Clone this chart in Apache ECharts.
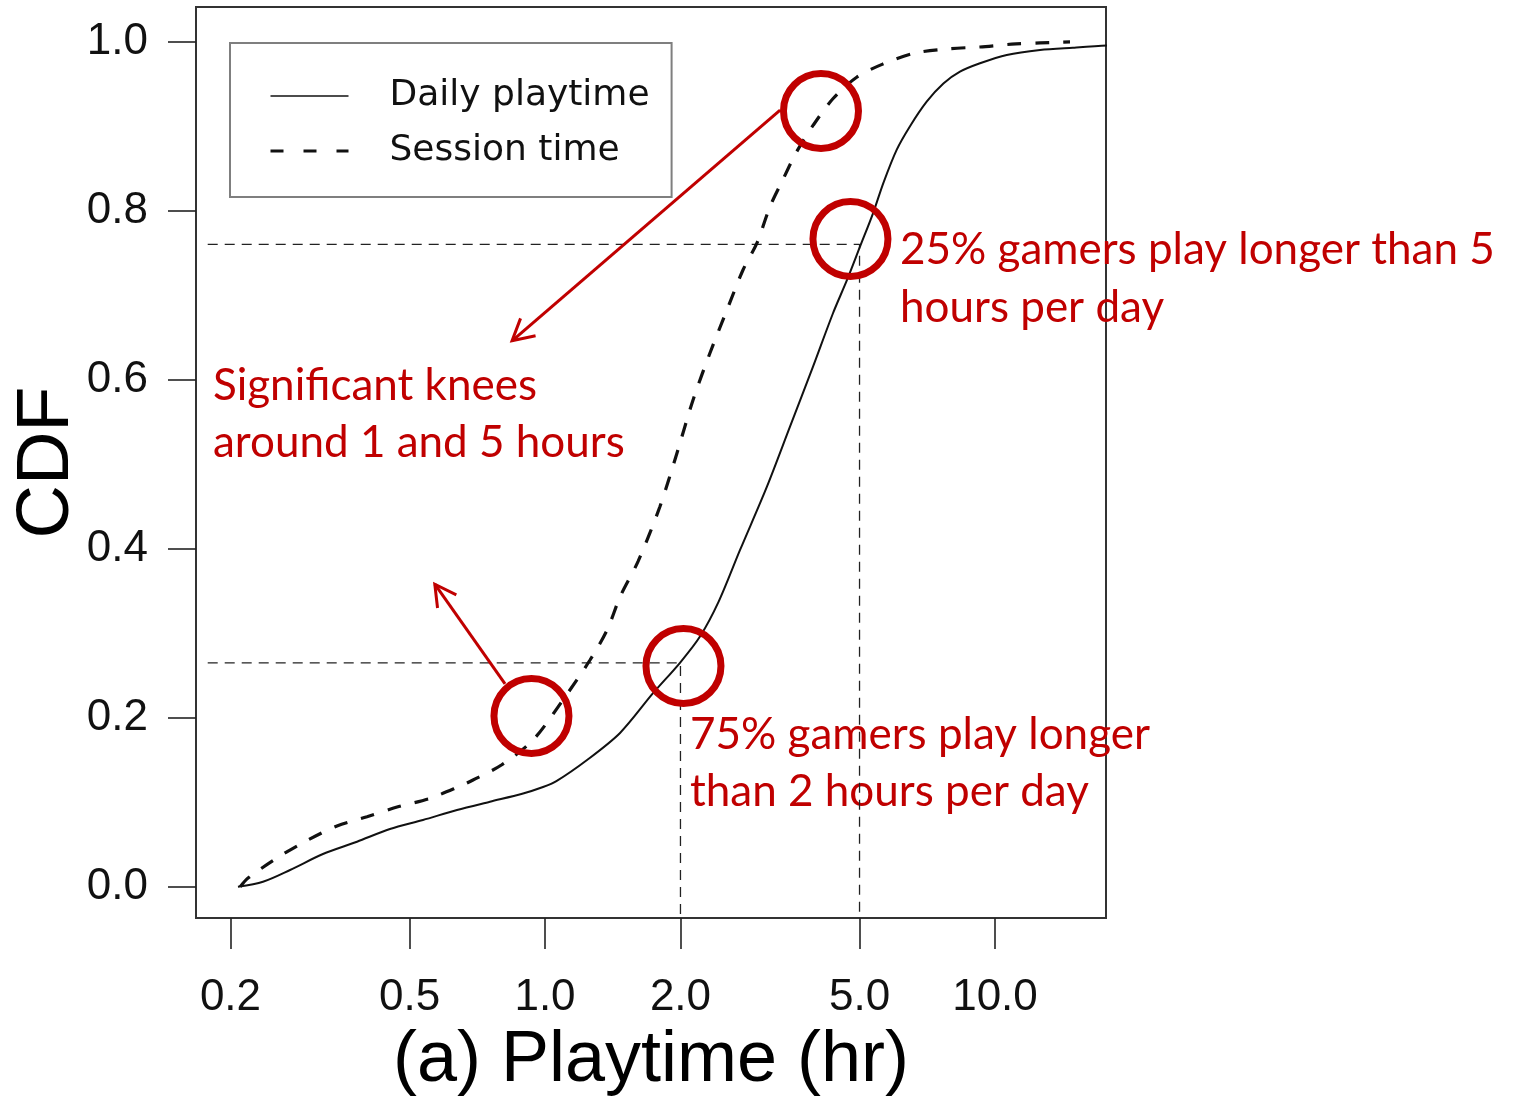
<!DOCTYPE html>
<html><head><meta charset="utf-8">
<script src="https://cdn.jsdelivr.net/npm/echarts@6/dist/echarts.min.js"></script>
<style>html,body{margin:0;padding:0;background:#fff}#c{width:1518px;height:1096px}</style>
</head><body><div id="c"></div>
<script>
// ---- data ----
const seriesNames = ['Daily playtime', 'Session time'];
const xTickHours = [0.2, 0.5, 1, 2, 5, 10];
const xTickLabels = ['0.2', '0.5', '1.0', '2.0', '5.0', '10.0'];
const yTickValues = [0, 0.2, 0.4, 0.6, 0.8, 1.0];
const yTickLabels = ['0.0', '0.2', '0.4', '0.6', '0.8', '1.0'];

const dailyHours = [0.2078, 0.2362, 0.2713, 0.321, 0.3822, 0.4522, 0.5356, 0.6373, 0.7546, 0.89, 0.99, 1.06, 1.24, 1.468, 1.738, 1.995, 2.21, 2.43, 2.713, 3.113, 3.503, 3.941, 4.365, 4.69, 5.012, 5.357, 5.65, 6.046, 6.474, 7.05, 7.68, 8.36, 9.26, 10.62, 12.59, 14.9, 17.74, 20];
const dailyCdf   = [0, 0.0059, 0.0198, 0.0387, 0.0533, 0.0683, 0.079, 0.0908, 0.1006, 0.110, 0.118, 0.125, 0.150, 0.182, 0.229, 0.265, 0.296, 0.337, 0.3985, 0.4734, 0.5444, 0.6154, 0.6786, 0.718, 0.7574, 0.7969, 0.833, 0.872, 0.900, 0.929, 0.9505, 0.9645, 0.9744, 0.9843, 0.9902, 0.9929, 0.9953, 0.996];

const sessionHours = [0.2103, 0.2188, 0.2577, 0.2974, 0.3449, 0.4022, 0.469, 0.5495, 0.6406, 0.6918, 0.80, 0.9404, 1.096, 1.259, 1.374, 1.468, 1.61, 1.8, 1.965, 2.133, 2.326, 2.537, 2.754, 2.959, 3.162, 3.375, 3.625, 3.948, 4.373, 4.928, 5.628, 6.607, 7.81, 9.26, 10.89, 12.59, 14.68];
const sessionCdf   = [0, 0.0103, 0.0363, 0.0553, 0.0719, 0.0828, 0.0943, 0.1038, 0.118, 0.1263, 0.144, 0.1736, 0.221, 0.2683, 0.3038, 0.3429, 0.385, 0.4497, 0.5133, 0.576, 0.6316, 0.6825, 0.7298, 0.7618, 0.8047, 0.8363, 0.8698, 0.9014, 0.933, 0.9579, 0.9734, 0.9862, 0.9914, 0.9937, 0.997, 0.9985, 0.9997];

// reference (guide) lines
const guide1Hours = [0.178, 5, 5];
const guide1Cdf   = [0.76, 0.76, -0.04];
const guide2Hours = [0.178, 2, 2];
const guide2Cdf   = [0.265, 0.265, -0.04];

// annotation circles and arrows (data coordinates)
const circleHours = [4.105, 4.773, 2.031, 0.933];
const circleCdf   = [0.918, 0.7665, 0.2612, 0.202];
const arrowFromHours = [3.33, 0.815];
const arrowFromCdf   = [0.919, 0.24];
const arrowToHours   = [0.845, 0.569];
const arrowToCdf     = [0.646, 0.358];

const annotationTexts = [
  'Significant knees\naround 1 and 5 hours',
  '25% gamers play longer than 5\nhours per day',
  '75% gamers play longer\nthan 2 hours per day'
];

// ---- build ----
const L = Math.log10;
const toPts = (xs, ys) => xs.map((x, i) => [L(x), ys[i]]);
const xTickPos = xTickHours.map(L);
const RED = '#C00000';
const hideIcon = {color: 'rgba(0,0,0,0)', borderColor: 'rgba(0,0,0,0)', borderWidth: 0, opacity: 0};

const chart = echarts.init(document.getElementById('c'), null, {renderer: 'canvas'});
chart.setOption({
  animation: false,
  backgroundColor: '#fff',
  grid: {left: 196, top: 7, width: 910, height: 911, show: true, borderColor: '#333', borderWidth: 2,
         backgroundColor: 'transparent', containLabel: false, outerBoundsMode: 'none'},
  xAxis: {
    type: 'value', min: -0.7756, max: 1.2467,
    axisLine: {show: false, onZero: false},
    splitLine: {show: false},
    axisTick: {show: true, length: 31, customValues: xTickPos, lineStyle: {color: '#222', width: 1.6}},
    axisLabel: {
      customValues: xTickPos, margin: 58, fontSize: 44, color: '#111', fontFamily: 'Liberation Sans',
      formatter: v => { const i = xTickPos.findIndex(t => Math.abs(t - v) < 1e-6); return i >= 0 ? xTickLabels[i] : ''; }
    },
    name: '(a) Playtime (hr)', nameLocation: 'middle', nameGap: 107, nameMoveOverlap: false,
    nameTextStyle: {fontSize: 72, color: '#000', fontFamily: 'Liberation Sans'}
  },
  yAxis: {
    type: 'value', min: -0.037, max: 1.041,
    axisLine: {show: false, onZero: false},
    splitLine: {show: false},
    axisTick: {show: true, length: 28, customValues: yTickValues, lineStyle: {color: '#222', width: 1.6}},
    axisLabel: {
      customValues: yTickValues, margin: 48, fontSize: 44, color: '#111', fontFamily: 'Liberation Sans',
      formatter: v => { const i = yTickValues.findIndex(t => Math.abs(t - v) < 1e-6); return i >= 0 ? yTickLabels[i] : ''; }
    },
    name: 'CDF', nameLocation: 'middle', nameGap: 111, nameMoveOverlap: false,
    nameTextStyle: {fontSize: 74, color: '#000', fontFamily: 'Liberation Sans'}
  },
  legend: {
    left: 230, top: 43, orient: 'vertical',
    data: [
      {name: seriesNames[0], lineStyle: {width: 1.3}, itemStyle: hideIcon},
      {name: seriesNames[1], lineStyle: {type: [13, 20], width: 3}, itemStyle: hideIcon}
    ],
    itemWidth: 78, itemHeight: 14, itemGap: 19,
    padding: [35, 22, 28, 39],
    borderColor: '#7f7f7f', borderWidth: 2,
    textStyle: {fontSize: 36, fontFamily: 'DejaVu Sans', color: '#111', padding: [0, 0, 0, 36]}
  },
  graphic: [
    {type: 'text', left: 213, top: 357, style: {text: annotationTexts[0], fontSize: 44, fontFamily: 'Lato', fill: RED, lineHeight: 57}},
    {type: 'text', left: 900, top: 221, style: {text: annotationTexts[1], fontSize: 44, fontFamily: 'Lato', fill: RED, lineHeight: 58}},
    {type: 'text', left: 690, top: 706, style: {text: annotationTexts[2], fontSize: 44, fontFamily: 'Lato', fill: RED, lineHeight: 57}}
  ],
  series: [
    {name: seriesNames[0], type: 'line', data: toPts(dailyHours, dailyCdf), symbol: 'none', smooth: 0.3,
     lineStyle: {color: '#111', width: 2}, itemStyle: {color: '#111'}, z: 3},
    {name: seriesNames[1], type: 'line', data: toPts(sessionHours, sessionCdf), symbol: 'none', smooth: 0.3,
     lineStyle: {color: '#111', width: 3.2, type: [14, 14]}, itemStyle: {color: '#111'}, z: 3},
    {name: 'guide1', type: 'line', data: toPts(guide1Hours, guide1Cdf), symbol: 'none',
     lineStyle: {color: '#222', width: 1.3, type: [10, 7]}, z: 2},
    {name: 'guide2', type: 'line', data: toPts(guide2Hours, guide2Cdf), symbol: 'none',
     lineStyle: {color: '#222', width: 1.3, type: [10, 7]}, z: 2},
    {name: 'circles', type: 'scatter', data: toPts(circleHours, circleCdf), symbol: 'circle', symbolSize: 75,
     itemStyle: {color: 'rgba(0,0,0,0)', borderColor: RED, borderWidth: 7, opacity: 1}, z: 5, silent: true},
    {name: 'arrows', type: 'custom', z: 5, silent: true,
     data: arrowFromHours.map((h, i) => [L(h), arrowFromCdf[i], L(arrowToHours[i]), arrowToCdf[i]]),
     encode: {x: [0, 2], y: [1, 3]},
     renderItem: (params, api) => {
       const p1 = api.coord([api.value(0), api.value(1)]);
       const p2 = api.coord([api.value(2), api.value(3)]);
       const ang = Math.atan2(p2[1] - p1[1], p2[0] - p1[0]);
       const len = 24, spread = 0.5;
       const a1 = [p2[0] - len * Math.cos(ang - spread), p2[1] - len * Math.sin(ang - spread)];
       const a2 = [p2[0] - len * Math.cos(ang + spread), p2[1] - len * Math.sin(ang + spread)];
       const st = {stroke: RED, lineWidth: 3, fill: 'none'};
       return {type: 'group', children: [
         {type: 'line', shape: {x1: p1[0], y1: p1[1], x2: p2[0], y2: p2[1]}, style: st},
         {type: 'polyline', shape: {points: [a1, p2, a2]}, style: st}
       ]};
     }}
  ]
});
</script></body></html>
